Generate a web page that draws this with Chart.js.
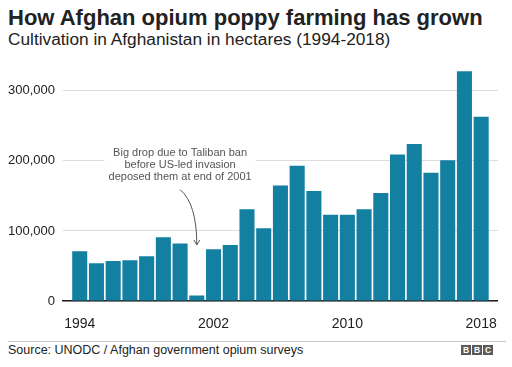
<!DOCTYPE html>
<html>
<head>
  <title>How Afghan opium poppy farming has grown</title>
  <script src="https://cdn.jsdelivr.net/npm/chart.js"></script>
  <style>
    body { margin: 0; background: #fff; font-family: "Liberation Sans", Arial, sans-serif; color: #222; }
    .wrap { position: relative; width: 512px; height: 367px; overflow: hidden; }
    .title { position: absolute; left: 8px; top: 7px; font-size: 22px; line-height: 22px; font-weight: bold; color: #222; white-space: nowrap; }
    .subtitle { position: absolute; left: 8px; top: 31px; font-size: 17.3px; line-height: 17px; color: #222; white-space: nowrap; }
    .chart-box { position: absolute; left: 0; top: 54px; width: 512px; height: 281px; }
    .rule { position: absolute; left: 8px; top: 341px; width: 498px; height: 1px; background: #c8c8c8; }
    .source { position: absolute; left: 8px; top: 344px; font-size: 12.5px; line-height: 12.5px; color: #222; white-space: nowrap; }
    .bbc { position: absolute; left: 461px; top: 345px; display: flex; gap: 1px; }
    .bbc span { width: 10px; height: 10px; background: #5a5a5a; color: #fff; font-size: 8.5px; font-weight: bold; line-height: 10px; text-align: center; }
  </style>
</head>
<body>
<div class="wrap">
  <div class="title">How Afghan opium poppy farming has grown</div>
  <div class="subtitle">Cultivation in Afghanistan in hectares (1994-2018)</div>
  <div class="chart-box"><canvas id="chart"></canvas></div>
  <div class="rule"></div>
  <div class="source">Source: UNODC / Afghan government opium surveys</div>
  <div class="bbc"><span>B</span><span>B</span><span>C</span></div>
</div>

<script>
  // hectares under opium poppy
  const years = [1994, 1995, 1996, 1997, 1998, 1999, 2000, 2001, 2002, 2003, 2004, 2005,
    2006, 2007, 2008, 2009, 2010, 2011, 2012, 2013, 2014, 2015, 2016, 2017, 2018];
  const hectares = [71000, 54000, 57000, 58000, 64000, 91000, 82000, 8000, 74000, 80000, 131000, 104000,
    165000, 193000, 157000, 123000, 123000, 131000, 154000, 209000, 224000, 183000, 201000, 328000, 263000];
  const xTicks = [1994, 2002, 2010, 2018];
  const yTicks = [0, 100000, 200000, 300000];
  const noteLines = ["Big drop due to Taliban ban", "before US-led invasion", "deposed them at end of 2001"];

  // callout text + curved arrow pointing at the 2001 bar
  const notePlugin = {
    id: "note",
    afterDatasetsDraw(chart) {
      const ctx = chart.ctx;
      const xs = chart.scales.x, ys = chart.scales.y;
      const cx = xs.getPixelForValue(2000);
      const top = ys.getPixelForValue(212000);
      ctx.save();
      ctx.font = "11px 'Liberation Sans', Arial, sans-serif";
      let w = 0;
      noteLines.forEach(l => { w = Math.max(w, ctx.measureText(l).width); });
      ctx.fillStyle = "#fff";
      ctx.fillRect(cx - w / 2 - 4, top - 8, w + 8, noteLines.length * 12 + 6);
      ctx.fillStyle = "#555";
      ctx.textAlign = "center";
      ctx.textBaseline = "middle";
      noteLines.forEach((l, i) => ctx.fillText(l, cx, top + i * 12));

      const sx = cx, sy = ys.getPixelForValue(159000);
      const ex = xs.getPixelForValue(2001), ey = ys.getPixelForValue(80000);
      ctx.strokeStyle = "#555";
      ctx.lineWidth = 1;
      ctx.beginPath();
      ctx.moveTo(sx, sy);
      ctx.quadraticCurveTo(ex, sy + 14, ex, ey);
      ctx.stroke();
      ctx.beginPath();
      ctx.moveTo(ex - 3, ey - 5);
      ctx.lineTo(ex, ey);
      ctx.lineTo(ex + 3, ey - 5);
      ctx.stroke();
      ctx.restore();
    }
  };

  new Chart("chart", {
    type: "bar",
    data: {
      datasets: [{
        data: years.map((y, i) => ({ x: y, y: hectares[i] })),
        backgroundColor: "#1380a1",
        borderWidth: 0,
        categoryPercentage: 1,
        barPercentage: 0.9,
      }],
    },
    options: {
      responsive: true,
      maintainAspectRatio: false,
      animation: false,
      layout: { padding: { top: 10, right: 7, left: 0, bottom: 0 } },
      plugins: { legend: { display: false }, tooltip: { enabled: false } },
      scales: {
        x: {
          type: "linear",
          min: 1993,
          max: 2019,
          offset: false,
          z: 1,
          afterBuildTicks: (s) => { s.ticks = xTicks.map(v => ({ value: v })); },
          afterFit: (s) => { s.height = 34; },
          grid: { display: false, drawTicks: false, offset: false },
          border: { display: true, color: "#222", width: 1.5 },
          ticks: {
            padding: 15,
            color: "#222",
            font: { family: "'Liberation Sans', Arial, sans-serif", size: 14 },
            callback: (v) => String(v),
          },
        },
        y: {
          min: 0,
          max: 330000,
          afterBuildTicks: (s) => { s.ticks = yTicks.map(v => ({ value: v })); },
          afterFit: (s) => { s.width = 63; },
          grid: { color: "#dcdcdc", lineWidth: 1, drawTicks: false },
          border: { display: false },
          ticks: {
            padding: 8,
            color: "#222",
            font: { family: "'Liberation Sans', Arial, sans-serif", size: 13 },
            callback: (v) => v.toLocaleString("en-US"),
          },
        },
      },
    },
    plugins: [notePlugin],
  });
</script>
</body>
</html>
